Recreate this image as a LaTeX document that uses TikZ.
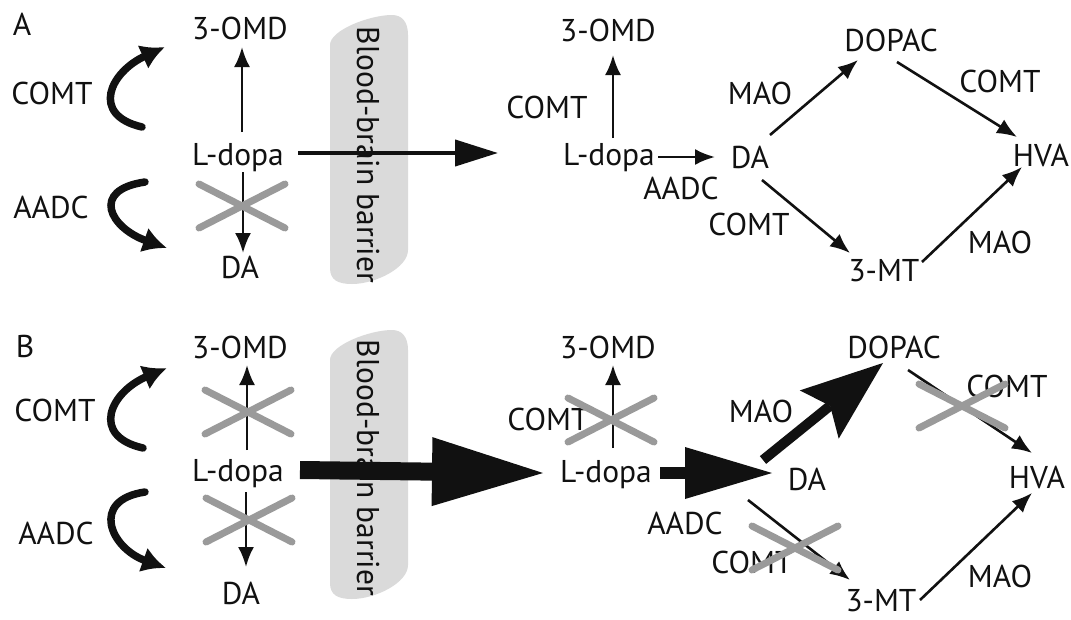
\documentclass[tikz,border=0pt]{standalone}
\usepackage{fontspec}
\setmainfont{PT Sans}
\usetikzlibrary{arrows.meta}
\definecolor{ink}{HTML}{111111}
\definecolor{crossgray}{HTML}{9A9A9A}
\definecolor{bbbgray}{HTML}{DADADA}
\begin{document}
\begin{tikzpicture}[x=1pt,y=-1pt,
  lbl/.style={font=\fontsize{31.5}{34}\selectfont, text height=22pt, text depth=0pt, inner sep=0pt, text=ink},
  arr/.style={line width=2.6pt, draw=ink, -{Latex[length=20pt,width=16pt]}},
  bendarr/.style={line width=7.5pt, draw=ink, line cap=round, -{Latex[length=24pt,width=26pt]}},
  xline/.style={line width=7pt, draw=crossgray, line cap=round},
  xmark/.pic={\draw[xline] (-43,-22) -- (43,22) (-43,22) -- (43,-22);},
  barrier/.style={fill=bbbgray}
]
\useasboundingbox (0,0) rectangle (1071,619);
\fill[white] (0,0) rectangle (1071,619);

% blood-brain barrier bands
\foreach \dy in {0,315}{
  \begin{scope}[shift={(0,\dy)}]
    \path[barrier] (330,268) -- (330,45) .. controls (330,30) and (370,15) .. (392,15)
      .. controls (402,15) and (408,22) .. (408,35) -- (408,250)
      .. controls (408,268) and (375,284) .. (352,284)
      .. controls (338,284) and (330,280) .. (330,268) -- cycle;
  \end{scope}
}

% ---------------- panel A ----------------
\node[lbl] (labA) at (22,24) {A};
\node[lbl] (omdA1) at (240,28) {3-OMD};
\node[lbl] (ldA1) at (238,154) {L-dopa};
\node[lbl] (daA1) at (240,267) {DA};
\node[lbl] (comtA1) at (52,93) {COMT};
\node[lbl] (aadcA1) at (51,207) {AADC};
\node[lbl, rotate=-90] (bbbA) at (368,155) {Blood-brain barrier};

\node[lbl] (omdA2) at (608,30) {3-OMD};
\node[lbl] (comtA2) at (547,107) {COMT};
\node[lbl] (ldA2) at (609,154) {L-dopa};
\node[lbl] (aadcA2) at (681,188) {AADC};
\node[lbl] (daA2) at (750,157) {DA};
\node[lbl] (dopacA) at (891,40) {DOPAC};
\node[lbl] (hvaA) at (1041,155) {HVA};
\node[lbl] (mtA) at (884,270) {3-MT};
\node[lbl] (maoA1) at (760,93) {MAO};
\node[lbl] (comtA3) at (1000,81) {COMT};
\node[lbl] (comtA4) at (749,224) {COMT};
\node[lbl] (maoA2) at (1000,242) {MAO};

\draw[bendarr] (142,127) .. controls (90,115) and (110,72) .. (165,47);
\draw[bendarr] (145,182) .. controls (90,190) and (110,228) .. (167,248);

\draw[arr] ([shift={(4,-22)}]ldA1.center) -- ([shift={(2,19)}]omdA1.center);
\draw[arr] ([shift={(5,18)}]ldA1.center) -- ([shift={(3,-14)}]daA1.center);
\draw[line width=4pt, draw=ink, -{Triangle[length=43pt,width=26pt]}]
  ([shift={(60,-1)}]ldA1.center) -- ([shift={(-111,-1)}]ldA2.center);

\draw[arr] ([shift={(4,-16)}]ldA2.center) -- ([shift={(5,25)}]omdA2.center);
\draw[arr] ([shift={(49,3)}]ldA2.center) -- ([shift={(-35,0)}]daA2.center);
\draw[arr] ([shift={(20,-22)}]daA2.center) -- ([shift={(-33,20)}]dopacA.center);
\draw[arr] ([shift={(6,22)}]dopacA.center) -- ([shift={(-24,-18)}]hvaA.center);
\draw[arr] ([shift={(12,23)}]daA2.center) -- ([shift={(-34,-17)}]mtA.center);
\draw[arr] ([shift={(38,-8)}]mtA.center) -- ([shift={(-19,12)}]hvaA.center);

\pic at (242,206) {xmark};

% ---------------- panel B ----------------
\node[lbl] (labB) at (25,346) {B};
\node[lbl] (omdB1) at (240,347) {3-OMD};
\node[lbl] (ldB1) at (238,470) {L-dopa};
\node[lbl] (daB1) at (241,593) {DA};
\node[lbl] (comtB1) at (55,410) {COMT};
\node[lbl] (aadcB1) at (56,533) {AADC};
\node[lbl, rotate=-90] (bbbB) at (368,468) {Blood-brain barrier};

\node[lbl] (omdB2) at (608,347) {3-OMD};
\node[lbl] (comtB2) at (548,419) {COMT};
\node[lbl] (ldB2) at (606,471) {L-dopa};
\node[lbl] (aadcB2) at (685,523) {AADC};
\node[lbl] (daB2) at (807,479) {DA};
\node[lbl] (dopacB) at (894,347) {DOPAC};
\node[lbl] (hvaB) at (1037,477) {HVA};
\node[lbl] (mtB) at (881,600) {3-MT};
\node[lbl] (maoB1) at (761,411) {MAO};
\node[lbl] (comtB3) at (1007,386) {COMT};
\node[lbl] (comtB4) at (752,562) {COMT};
\node[lbl] (maoB2) at (1000,576) {MAO};

\draw[bendarr] (143,448) .. controls (90,436) and (110,392) .. (167,368);
\draw[bendarr] (145,492) .. controls (90,500) and (110,548) .. (166,568);

\draw[arr] ([shift={(9,-20)}]ldB1.center) -- ([shift={(7,18)}]omdB1.center);
\draw[arr] ([shift={(8,22)}]ldB1.center) -- ([shift={(5,-26)}]daB1.center);
\draw[line width=18pt, draw=ink, -{Triangle[length=111pt,width=69pt,line width=0pt]}]
  ([shift={(62,0)}]ldB1.center) -- ([shift={(-63,2)}]ldB2.center);

\draw[arr] ([shift={(7,-23)}]ldB2.center) -- ([shift={(5,18)}]omdB2.center);
\draw[line width=12pt, draw=ink, -{Triangle[length=87pt,width=52pt,line width=0pt]}]
  ([shift={(54,2)}]ldB2.center) -- ([shift={(-35,-6)}]daB2.center);
\draw[line width=10pt, draw=ink, -{Stealth[length=82pt,width=62pt,inset=14pt,line width=0pt]}]
  ([shift={(-44,-19)}]daB2.center) -- ([shift={(-11,16)}]dopacB.center);
\draw[arr] ([shift={(14,23)}]dopacB.center) -- ([shift={(-5,-24)}]hvaB.center);
\draw[arr] ([shift={(-59,21)}]daB2.center) -- ([shift={(-31,-20)}]mtB.center);
\draw[arr] ([shift={(39,0)}]mtB.center) -- ([shift={(-5,16)}]hvaB.center);

\pic at (248,412) {xmark};
\pic at (249,520) {xmark};
\pic at (611,420) {xmark};
\pic at (962,406) {xmark};
\pic at (795,548) {xmark};
\end{tikzpicture}
\end{document}
